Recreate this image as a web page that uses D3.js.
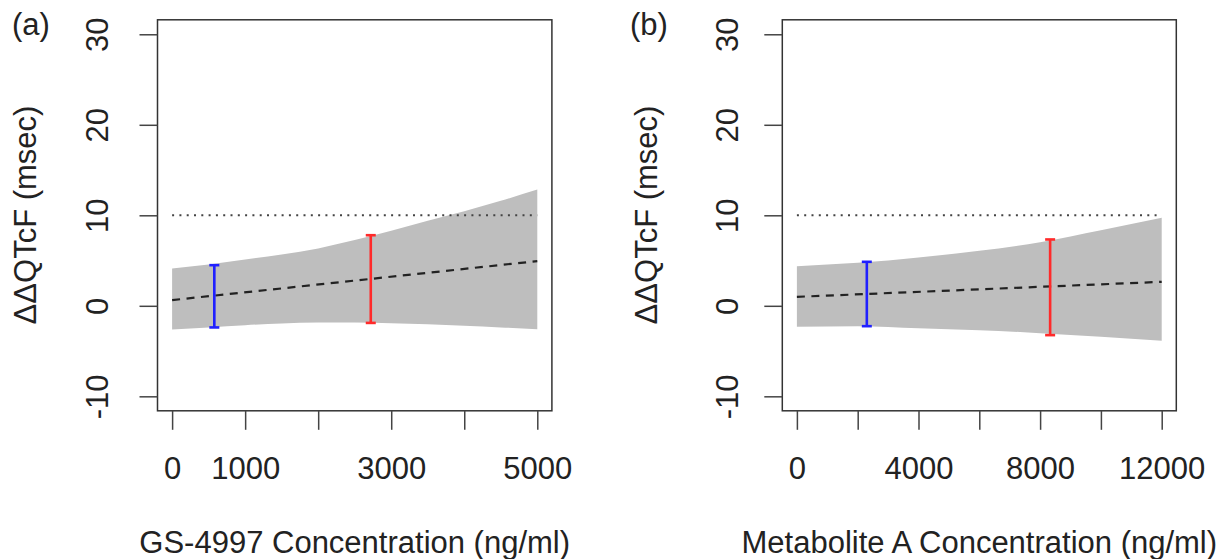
<!DOCTYPE html>
<html>
<head>
<meta charset="utf-8">
<script src="https://cdn.jsdelivr.net/npm/d3@7"></script>
<style>
  body { margin: 0; background: #fff; }
  text { font-family: "Liberation Sans", Arial, sans-serif; fill: #222; }
</style>
</head>
<body>
<div id="chart"></div>
<script>
// ---- data ----
// panel (a): GS-4997
var concA = [0, 500, 1000, 1500, 2000, 2500, 3000, 3500, 4000, 4500, 5000];
var upperA = [4.13, 4.57, 5.12, 5.67, 6.34, 7.26, 8.29, 9.39, 10.46, 11.6, 12.85];
var lowerA = [-2.62, -2.39, -2.14, -1.95, -1.84, -1.84, -1.92, -2.03, -2.21, -2.39, -2.58];
var fitA = [[0, 0.63], [5000, 4.94]];
var barsA = [[578, -2.39, 4.49, "blue"], [2720, -1.89, 7.8, "red"]];
var xTicksA = [0, 1000, 2000, 3000, 4000, 5000];
var xLabelsA = [0, 1000, 3000, 5000];

// panel (b): Metabolite A
var concB = [0, 2000, 4000, 6000, 8000, 10000, 12000];
var upperB = [4.38, 4.75, 5.34, 6.08, 7.03, 8.36, 9.72];
var lowerB = [-2.32, -2.25, -2.47, -2.69, -3.02, -3.43, -3.87];
var fitB = [[0, 0.99], [12000, 2.65]];
var barsB = [[2300, -2.25, 4.86, "blue"], [8330, -3.24, 7.33, "red"]];
var xTicksB = [0, 2000, 4000, 6000, 8000, 10000, 12000];
var xLabelsB = [0, 4000, 8000, 12000];

var yTicks = [-10, 0, 10, 20, 30];
var threshold = 10;

var width = 1223, height = 559;
var svg = d3.select("#chart").append("svg")
  .attr("width", width).attr("height", height);

svg.append("rect").attr("width", width).attr("height", height).attr("fill", "#fff");

var fontSize = 31;

function panel(opt) {
  var x = d3.scaleLinear().domain(opt.xDomain).range([opt.left, opt.right]);
  var y = d3.scaleLinear().domain([-11.6, 31.6]).range([410.8, 19.8]);
  var g = svg.append("g");

  // confidence band
  var band = opt.conc.map((c, i) => ({c: c, lo: opt.lower[i], hi: opt.upper[i]}));
  g.append("path")
    .datum(band)
    .attr("fill", "#bebebe")
    .attr("d", d3.area().curve(d3.curveMonotoneX)
      .x(d => x(d.c)).y0(d => y(d.lo)).y1(d => y(d.hi)));

  // 10 msec threshold, dotted
  g.append("line")
    .attr("x1", x(opt.conc[0])).attr("x2", x(opt.conc[opt.conc.length - 1]))
    .attr("y1", y(threshold)).attr("y2", y(threshold))
    .attr("stroke", "#444").attr("stroke-width", 2)
    .attr("stroke-dasharray", "2,5.3");

  // fitted line, dashed
  g.append("path")
    .datum(opt.fit)
    .attr("fill", "none").attr("stroke", "#222").attr("stroke-width", 2.2)
    .attr("stroke-dasharray", "8,6.5")
    .attr("d", d3.line().x(d => x(d[0])).y(d => y(d[1])));

  // error bars
  opt.bars.forEach(function(b) {
    var bx = x(b[0]);
    var col = b[3] == "red" ? "#ff2a2a" : "#2020ff";
    g.append("line").attr("x1", bx).attr("x2", bx)
      .attr("y1", y(b[1])).attr("y2", y(b[2]))
      .attr("stroke", col).attr("stroke-width", 2.6);
    [b[1], b[2]].forEach(function(v) {
      g.append("line").attr("x1", bx - 5).attr("x2", bx + 5)
        .attr("y1", y(v)).attr("y2", y(v))
        .attr("stroke", col).attr("stroke-width", 2.6);
    });
  });

  // box
  g.append("rect")
    .attr("x", opt.left).attr("y", 19.8)
    .attr("width", opt.right - opt.left).attr("height", 410.8 - 19.8)
    .attr("fill", "none").attr("stroke", "#333").attr("stroke-width", 1.5);

  // x axis
  var xa = g.append("g")
    .attr("transform", `translate(0,410.8)`)
    .call(d3.axisBottom(x).tickValues(opt.xTicks).tickSizeInner(19).tickSizeOuter(0)
      .tickPadding(27)
      .tickFormat(d => opt.xLabels.includes(d) ? String(d) : ""));
  xa.select(".domain").remove();
  xa.selectAll("line").attr("stroke", "#444").attr("stroke-width", 1.5);
  xa.selectAll("text").attr("font-size", fontSize).attr("font-family", null)
    .attr("fill", "#222");

  // y axis
  var ya = g.append("g")
    .attr("transform", `translate(${opt.left},0)`)
    .call(d3.axisLeft(y).tickValues(yTicks).tickSizeInner(18).tickSizeOuter(0)
      .tickFormat(d => String(d)));
  ya.select(".domain").remove();
  ya.selectAll("line").attr("stroke", "#444").attr("stroke-width", 1.5);
  ya.selectAll("text")
    .attr("font-size", fontSize).attr("font-family", null).attr("fill", "#222")
    .attr("x", null).attr("dy", null)
    .attr("text-anchor", "middle")
    .attr("transform", `translate(${opt.yLabelX - opt.left},0) rotate(-90)`);

  // titles
  g.append("text")
    .attr("x", (opt.left + opt.right) / 2).attr("y", 553)
    .attr("text-anchor", "middle").attr("font-size", fontSize)
    .text(opt.xTitle);
  g.append("text")
    .attr("transform", `translate(${opt.yTitleX},215) rotate(-90)`)
    .attr("text-anchor", "middle").attr("font-size", fontSize)
    .text("ΔΔQTcF (msec)");
  g.append("text")
    .attr("x", opt.tagX).attr("y", 35)
    .attr("font-size", fontSize)
    .text(opt.tag);
}

panel({
  conc: concA, upper: upperA, lower: lowerA, fit: fitA, bars: barsA,
  xTicks: xTicksA, xLabels: xLabelsA,
  xDomain: [-200, 5200], left: 157.5, right: 551.9,
  yLabelX: 108, yTitleX: 35.5, tagX: 12, tag: "(a)",
  xTitle: "GS-4997 Concentration (ng/ml)"
});

panel({
  conc: concB, upper: upperB, lower: lowerB, fit: fitB, bars: barsB,
  xTicks: xTicksB, xLabels: xLabelsB,
  xDomain: [-480, 12480], left: 782.3, right: 1176.3,
  yLabelX: 738, yTitleX: 657, tagX: 630, tag: "(b)",
  xTitle: "Metabolite A Concentration (ng/ml)"
});
</script>
</body>
</html>
